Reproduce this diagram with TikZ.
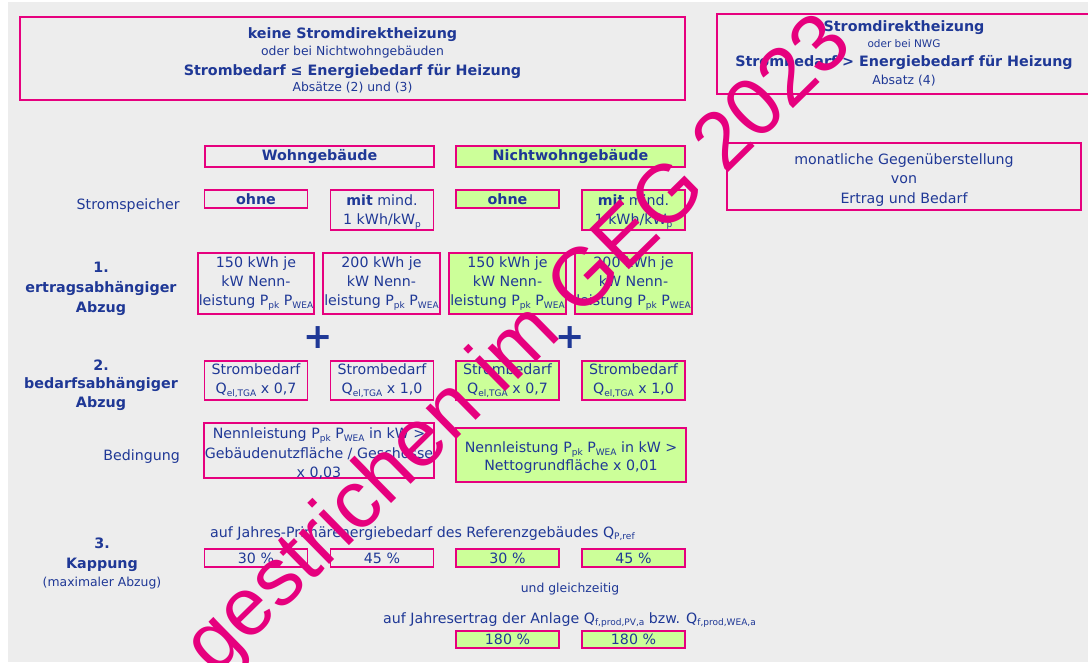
\documentclass[tikz,border=0pt]{standalone}
\usepackage{fontspec}
\setmainfont{DejaVu Sans}
\newfontfamily\wmfont{Liberation Sans}
\definecolor{navy}{RGB}{31,56,150}
\definecolor{pinkc}{RGB}{230,0,126}
\definecolor{lgreen}{RGB}{204,255,153}
\definecolor{bgc}{RGB}{237,237,237}
\newcommand\freg{\fontsize{14.2pt}{19pt}\selectfont}
\newcommand\fbld{\bfseries\fontsize{14.3pt}{19pt}\selectfont}
\newcommand\fsml{\fontsize{12.4pt}{15pt}\selectfont}
\newcommand\fnwg{\fontsize{10.5pt}{13pt}\selectfont}
\newcommand\fplus{\bfseries\fontsize{35pt}{35pt}\selectfont}
\newcommand\sbs[1]{\raisebox{-2.5pt}{\fontsize{9pt}{9pt}\selectfont #1}}
\tikzset{
  box/.style={draw=pinkc, line width=1.8pt, inner sep=0pt, text=navy, align=center, font=\freg},
  gbox/.style={box, fill=lgreen},
  txt/.style={inner sep=0pt, text=navy, font=\freg},
  mtxt/.style={inner sep=0pt, text=navy, align=center, font=\freg},
  btxt/.style={inner sep=0pt, text=navy, font=\fbld},
  stxt/.style={inner sep=0pt, text=navy, font=\fsml},
  wmark/.style={inner sep=0pt, text=pinkc, font=\wmfont\fontsize{82pt}{82pt}\selectfont},
}
\begin{document}
\begin{tikzpicture}[x=1pt,y=-1pt]
\useasboundingbox (0,0) rectangle (1088,662);
\clip (0,0) rectangle (1088,662);
\fill[white] (0,0) rectangle (1088,662);
\fill[bgc] (8,2) rectangle (1088,662);

% top boxes
\node[box, minimum width=665pt, minimum height=83pt] (hA) at (352.5,58.5) {};
\node[btxt, anchor=base] (hA1) at (352.5,38) {keine Stromdirektheizung};
\node[stxt, anchor=base] (hA2) at (352.5,55) {oder bei Nichtwohngebäuden};
\node[btxt, anchor=base] (hA3) at (352.5,75) {Strombedarf ≤ Energiebedarf für Heizung};
\node[stxt, anchor=base] (hA4) at (352.5,91.5) {Absätze (2) und (3)};

\node[box, minimum width=378pt, minimum height=80pt] (hB) at (906,54) {};
\node[btxt, anchor=base] (hB1) at (904,31) {Stromdirektheizung};
\node[inner sep=0pt, text=navy, font=\fnwg, anchor=base] (hB2) at (904,47) {oder bei NWG};
\node[btxt, anchor=base] (hB3) at (904,66) {Strombedarf > Energiebedarf für Heizung};
\node[stxt, anchor=base] (hB4) at (904,84) {Absatz (4)};

% building type
\node[box, font=\fbld, minimum width=229pt, minimum height=21pt] (wg) at (319.5,156.5) {Wohngebäude};
\node[gbox, font=\fbld, minimum width=229pt, minimum height=21pt] (nwg) at (570.5,156.5) {Nichtwohngebäude};
\node[box, minimum width=354pt, minimum height=67pt] (mon) at (904,176.5) {};
\node[mtxt, font=\fontsize{14.2pt}{19.5pt}\selectfont] (mont) at ([yshift=-3.5pt]mon.center) {monatliche Gegenüberstellung\\von\\Ertrag und Bedarf};

% Stromspeicher
\node[txt, anchor=base east] (lsp) at (180,209) {Stromspeicher};
\node[box, font=\fbld, minimum width=103pt, minimum height=18pt] (sp1) at (256,199) {ohne};
\node[box, minimum width=103pt, minimum height=40pt] (sp2) at (382,210) {};
\node[mtxt] (sp2t) at ([yshift=-2pt]sp2.center) {\textbf{mit} mind.\\1 kWh/kW\sbs{p}};
\node[gbox, font=\fbld, minimum width=103pt, minimum height=18pt] (sp3) at (507.5,199) {ohne};
\node[gbox, minimum width=103pt, minimum height=40pt] (sp4) at (633.5,210) {};
\node[mtxt] (sp4t) at ([yshift=-2pt]sp4.center) {\textbf{mit} mind.\\1 kWh/kW\sbs{p}};

% 1. ertragsabhaengiger Abzug
\node[btxt, anchor=base] (l1a) at (101,272) {1.};
\node[btxt, anchor=base] (l1b) at (101,292) {ertragsabhängiger};
\node[btxt, anchor=base] (l1c) at (101,312) {Abzug};
\node[box, minimum width=116pt, minimum height=61pt] (e1) at (256,283.5) {150 kWh je\\kW Nenn-\\leistung P\sbs{pk} P\sbs{WEA}};
\node[box, minimum width=117pt, minimum height=61pt] (e2) at (381.5,283.5) {200 kWh je\\kW Nenn-\\leistung P\sbs{pk} P\sbs{WEA}};
\node[gbox, minimum width=117pt, minimum height=61pt] (e3) at (507.5,283.5) {150 kWh je\\kW Nenn-\\leistung P\sbs{pk} P\sbs{WEA}};
\node[gbox, minimum width=117pt, minimum height=61pt] (e4) at (633.5,283.5) {200 kWh je\\kW Nenn-\\leistung P\sbs{pk} P\sbs{WEA}};

\node[inner sep=0pt, text=navy, font=\fplus] (p1) at (318,338) {+};
\node[inner sep=0pt, text=navy, font=\fplus] (p2) at (570,338) {+};

% 2. bedarfsabhaengiger Abzug
\node[btxt, anchor=base] (l2a) at (101,370) {2.};
\node[btxt, anchor=base] (l2b) at (101,388) {bedarfsabhängiger};
\node[btxt, anchor=base] (l2c) at (101,407) {Abzug};
\node[box, minimum width=103pt, minimum height=39pt] (b1) at (256,380.5) {Strombedarf\\Q\sbs{el,TGA} x 0,7};
\node[box, minimum width=103pt, minimum height=39pt] (b2) at (382,380.5) {Strombedarf\\Q\sbs{el,TGA} x 1,0};
\node[gbox, minimum width=103pt, minimum height=39pt] (b3) at (507.5,380.5) {Strombedarf\\Q\sbs{el,TGA} x 0,7};
\node[gbox, minimum width=103pt, minimum height=39pt] (b4) at (633.5,380.5) {Strombedarf\\Q\sbs{el,TGA} x 1,0};

\node[txt, anchor=base east] (lbed) at (180,460) {Bedingung};
\node[box, minimum width=230pt, minimum height=55pt] (c1) at (319,450.5) {};
\node[mtxt, font=\fontsize{14.2pt}{19.5pt}\selectfont] (c1t) at ([yshift=-3pt]c1.center) {Nennleistung P\sbs{pk} P\sbs{WEA} in kW >\\Gebäudenutzfläche / Geschosse\\x 0,03};
\node[gbox, minimum width=230pt, minimum height=54pt] (c2) at (571,455) {};
\node[mtxt, font=\fontsize{14.2pt}{18pt}\selectfont] (c2t) at ([yshift=-3pt]c2.center) {Nennleistung P\sbs{pk} P\sbs{WEA} in kW >\\Nettogrundfläche x 0,01};

% 3. Kappung
\node[btxt, anchor=base] (l3a) at (102,548) {3.};
\node[btxt, anchor=base] (l3b) at (102,568) {Kappung};
\node[stxt, anchor=base] (l3c) at (102,586) {(maximaler Abzug)};
\node[txt, anchor=base west] (kp1) at (210,537) {auf Jahres-Primärenergiebedarf des Referenzgebäudes Q\sbs{P,ref}};
\node[box, minimum width=103pt, minimum height=18pt] (k1) at (256,558) {30 \%};
\node[box, minimum width=103pt, minimum height=18pt] (k2) at (382,558) {45 \%};
\node[gbox, minimum width=103pt, minimum height=18pt] (k3) at (507.5,558) {30 \%};
\node[gbox, minimum width=103pt, minimum height=18pt] (k4) at (633.5,558) {45 \%};
\node[stxt, anchor=base] (ug) at (570,592) {und gleichzeitig};
\node[txt, anchor=base west] (kp2) at (383,623) {auf Jahresertrag der Anlage Q\sbs{f,prod,PV,a} bzw. Q\sbs{f,prod,WEA,a}};
\node[gbox, minimum width=103pt, minimum height=17pt] (k5) at (507.5,639.5) {180 \%};
\node[gbox, minimum width=103pt, minimum height=17pt] (k6) at (633.5,639.5) {180 \%};

% watermark
\node[wmark, rotate=44.5, anchor=base west] (wm) at (215,677) {gestrichen im GEG 2023};
\end{tikzpicture}
\end{document}
